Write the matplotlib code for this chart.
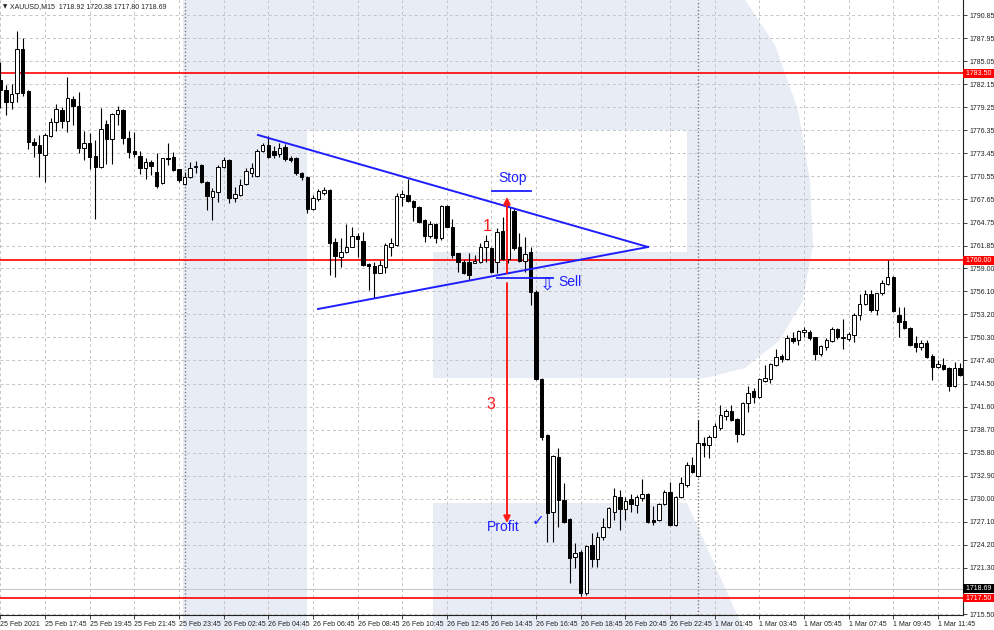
import matplotlib
matplotlib.use("Agg")
import matplotlib.pyplot as plt
from matplotlib.patches import Polygon, Rectangle
from matplotlib.transforms import blended_transform_factory

# ---------------- data ----------------
opens = [1782.68,1781.42,1779.87,1781.00,1786.58,1781.29,1774.92,1774.50,1773.24,1775.63,
         1777.36,1778.90,1777.52,1780.29,1779.41,1774.09,1774.71,1773.15,1771.77,1777.14,
         1775.26,1778.36,1778.90,1775.34,1773.75,1773.12,1771.57,1772.40,1771.14,1769.68,
         1772.90,1772.95,1771.44,1769.56,1770.51,1771.86,1771.98,1769.88,1767.98,1768.55,
         1771.77,1772.61,1767.80,1768.21,1769.56,1770.94,1770.60,1773.78,1774.50,1773.78,
         1773.37,1774.21,1772.83,1772.83,1771.02,1770.51,1766.45,1767.71,1768.42,1768.84,
         1762.26,1760.45,1761.08,1761.71,1763.05,1762.46,1759.53,1759.28,1758.44,1759.19,
         1761.71,1761.92,1767.92,1768.21,1767.49,1766.74,1765.07,1763.05,1764.56,1762.76,
         1766.83,1764.22,1760.88,1759.82,1759.82,1759.70,1759.82,1761.63,1761.51,1759.82,
         1763.72,1760.16,1766.24,1761.63,1759.95,1761.00,1756.05,1745.03,1738.02,1728.37,
         1735.29,1729.85,1727.45,1722.71,1723.34,1718.11,1724.18,1722.39,1725.23,1726.41,
         1728.37,1730.18,1728.68,1729.93,1729.21,1730.06,1730.60,1727.33,1727.33,1729.34,
         1730.89,1726.70,1730.26,1731.73,1734.25,1732.86,1736.98,1736.76,1737.81,1738.86,
         1740.45,1741.08,1740.00,1738.11,1742.01,1743.56,1742.76,1744.85,1745.03,1746.83,
         1747.96,1747.54,1750.18,1749.97,1751.02,1751.02,1750.31,1748.21,1749.13,1749.88,
         1751.32,1750.18,1750.06,1750.60,1753.11,1754.50,1755.76,1753.75,1755.85,1757.02,
         1757.93,1753.11,1752.40,1751.44,1749.56,1749.05,1749.56,1747.96,1746.54,1746.83,
         1746.41,1744.18,1746.41]
highs = [1784.94,1782.05,1782.14,1788.84,1787.96,1781.42,1775.38,1775.76,1776.01,1777.93,
         1779.62,1779.32,1783.09,1780.70,1781.21,1776.26,1775.97,1775.13,1779.12,1777.65,
         1778.49,1779.44,1778.99,1776.26,1776.17,1773.75,1772.83,1772.61,1773.53,1772.90,
         1774.71,1773.66,1771.48,1771.14,1772.40,1772.49,1772.11,1769.97,1769.05,1771.98,
         1773.03,1772.74,1769.25,1770.18,1771.57,1772.20,1773.96,1774.71,1775.63,1774.37,
         1774.79,1774.63,1773.12,1773.03,1771.14,1770.60,1768.21,1768.93,1769.25,1768.93,
         1762.76,1762.76,1764.52,1764.22,1763.39,1763.59,1759.62,1759.82,1760.03,1762.21,
         1762.76,1768.42,1768.84,1770.18,1767.58,1766.83,1765.15,1764.98,1764.65,1766.95,
         1766.95,1765.15,1760.95,1760.03,1760.88,1760.66,1762.14,1763.18,1761.71,1764.02,
         1765.48,1767.20,1766.61,1763.47,1762.97,1761.63,1756.26,1745.15,1738.15,1735.51,
         1736.35,1731.94,1727.54,1724.40,1723.56,1724.18,1725.66,1725.86,1727.54,1729.00,
         1731.32,1731.10,1730.26,1730.60,1730.47,1732.45,1730.69,1729.09,1729.43,1731.10,
         1732.15,1730.35,1732.78,1734.66,1735.29,1739.91,1737.81,1738.02,1739.49,1741.79,
         1741.26,1741.79,1740.12,1742.21,1744.18,1743.90,1745.15,1746.83,1747.12,1748.80,
         1748.21,1750.60,1751.02,1751.23,1751.57,1751.23,1750.35,1749.34,1750.18,1751.57,
         1751.44,1752.58,1751.02,1753.40,1755.76,1756.26,1756.26,1755.92,1757.52,1760.03,
         1758.02,1754.16,1754.16,1751.57,1750.47,1749.97,1749.97,1748.21,1747.45,1747.67,
         1746.61,1747.24,1747.04]
lows = [1779.15,1778.27,1779.03,1779.91,1780.70,1774.00,1773.03,1770.51,1769.85,1775.54,
        1776.26,1776.60,1776.17,1777.02,1773.46,1772.61,1771.48,1765.19,1771.61,1772.07,
        1772.07,1777.02,1774.59,1772.90,1773.03,1770.81,1770.22,1770.73,1769.13,1769.56,
        1771.98,1771.23,1769.88,1769.47,1770.39,1770.94,1769.72,1766.32,1765.07,1767.37,
        1771.57,1767.17,1767.37,1768.12,1769.47,1770.51,1770.51,1773.66,1772.83,1772.83,
        1773.03,1772.53,1772.40,1770.73,1770.10,1765.98,1766.32,1767.49,1768.21,1758.15,
        1757.93,1759.12,1760.95,1761.63,1760.45,1759.28,1756.26,1755.22,1758.36,1758.36,
        1760.54,1761.79,1766.83,1767.37,1764.98,1764.73,1762.34,1762.76,1762.14,1762.55,
        1764.15,1760.25,1758.56,1758.27,1757.52,1759.62,1759.70,1759.82,1758.44,1758.36,
        1760.03,1759.70,1761.29,1759.82,1758.56,1754.37,1744.94,1737.39,1724.60,1724.60,
        1726.49,1726.91,1719.37,1721.25,1717.77,1717.89,1721.46,1721.46,1724.81,1726.28,
        1727.33,1726.07,1727.33,1728.37,1728.17,1729.76,1726.99,1726.70,1727.24,1729.21,
        1726.61,1726.58,1730.06,1731.52,1733.28,1732.78,1735.29,1735.09,1737.73,1738.65,
        1739.91,1739.82,1737.18,1738.02,1740.95,1742.08,1742.63,1744.73,1744.52,1746.70,
        1747.24,1747.45,1749.56,1749.34,1750.31,1749.97,1747.45,1747.96,1748.71,1749.76,
        1750.06,1748.80,1749.88,1749.76,1752.49,1754.37,1753.53,1753.11,1755.63,1756.89,
        1753.53,1750.38,1751.36,1749.22,1748.50,1748.71,1747.67,1744.94,1746.41,1746.20,
        1743.59,1744.10,1745.44]
closes = [1781.42,1779.91,1780.88,1786.58,1781.08,1774.92,1774.50,1773.46,1775.76,1777.43,
          1779.03,1777.56,1780.45,1779.41,1774.16,1774.71,1773.03,1771.77,1776.48,1775.26,
          1778.36,1778.90,1775.34,1773.66,1773.33,1771.57,1772.40,1771.86,1769.38,1772.83,
          1772.70,1771.36,1770.10,1770.51,1771.65,1771.70,1769.81,1768.12,1768.71,1771.77,
          1772.61,1767.87,1768.30,1769.47,1771.27,1771.57,1773.78,1774.50,1772.95,1773.24,
          1774.09,1772.70,1772.61,1770.94,1770.51,1766.45,1767.80,1768.71,1768.84,1762.21,
          1760.54,1761.08,1761.63,1763.05,1762.64,1759.41,1759.28,1758.44,1759.41,1761.92,
          1762.21,1768.08,1768.30,1767.49,1766.74,1764.85,1763.05,1764.56,1762.76,1766.83,
          1764.22,1760.66,1759.82,1758.44,1758.15,1759.91,1761.63,1762.42,1758.56,1763.59,
          1760.12,1766.70,1761.51,1759.95,1760.75,1756.05,1745.03,1737.81,1728.17,1735.38,
          1729.85,1727.04,1722.51,1723.14,1718.11,1724.06,1722.39,1725.23,1726.41,1728.80,
          1730.35,1728.68,1729.76,1729.34,1730.18,1730.60,1727.12,1727.12,1729.34,1730.89,
          1726.70,1730.26,1732.02,1734.25,1733.41,1737.05,1736.76,1737.81,1739.15,1740.54,
          1741.08,1739.91,1738.11,1742.01,1743.34,1742.76,1745.07,1745.15,1746.95,1747.87,
          1747.54,1750.18,1749.88,1751.10,1751.23,1750.18,1748.21,1749.22,1749.97,1751.32,
          1750.31,1750.38,1750.73,1753.11,1754.50,1755.76,1753.75,1755.85,1757.18,1757.86,
          1753.62,1752.27,1751.44,1749.34,1749.13,1749.56,1747.87,1746.54,1746.95,1746.29,
          1744.18,1746.41,1745.57]

price_labels = [1790.85, 1787.95, 1785.05, 1782.15, 1779.25, 1776.35, 1773.45, 1770.55,
                1767.65, 1764.75, 1761.85, 1759.00, 1756.10, 1753.20, 1750.30, 1747.40,
                1744.50, 1741.60, 1738.70, 1735.80, 1732.90, 1730.00, 1727.10, 1724.20,
                1721.30, 1715.50]
time_labels = ["25 Feb 2021", "25 Feb 17:45", "25 Feb 19:45", "25 Feb 21:45", "25 Feb 23:45",
               "26 Feb 02:45", "26 Feb 04:45", "26 Feb 06:45", "26 Feb 08:45", "26 Feb 10:45",
               "26 Feb 12:45", "26 Feb 14:45", "26 Feb 16:45", "26 Feb 18:45", "26 Feb 20:45",
               "26 Feb 22:45", "1 Mar 01:45", "1 Mar 03:45", "1 Mar 05:45", "1 Mar 07:45",
               "1 Mar 09:45", "1 Mar 11:45"]
label_step = 8
day_separators = [33, 125]
red_levels = [1783.50, 1760.00, 1717.50]
bid_price = 1718.69
title = "XAUUSD,M15  1718.92 1720.38 1717.80 1718.69"

# annotation geometry (bar index, price)
tri_upper = ([46.16, 116.05], [1775.76, 1761.67])
tri_lower = ([56.91, 116.05], [1753.87, 1761.67])
stop_arrow = (90.78, 1758.40, 1767.96)
profit_arrow = (90.78, 1757.14, 1726.95)
stop_line = ([88.1, 95.1], 1768.75)
sell_line = ([89.0, 99.0], 1757.73)

# ---------------- figure ----------------
W, H = 995, 630
fig = plt.figure(figsize=(W / 100, H / 100), dpi=100)
fig.patch.set_facecolor("white")

# watermark (background, pixel coords)
bg = fig.add_axes([0, 0, 1, 1], zorder=0)
bg.set_xlim(0, W)
bg.set_ylim(H, 0)
bg.axis("off")
wm = "#e8ecf5"
bg.add_patch(Rectangle((183, 0), 124, 630, fc=wm, ec="none"))
bowl = [(307, 0), (745, 0), (775, 45), (798, 110), (810, 180), (813, 245), (803, 300),
        (780, 340), (745, 368), (705, 378), (433, 378), (433, 252), (687, 252),
        (687, 130), (307, 130)]
bg.add_patch(Polygon(bowl, closed=True, fc=wm, ec="none"))
leg = [(433, 503), (687, 503), (744, 630), (433, 630)]
bg.add_patch(Polygon(leg, closed=True, fc=wm, ec="none"))

ax = fig.add_axes([0, 15 / H, 963 / W, 615 / H], zorder=1)
ax.set_facecolor("none")
n = len(opens)
xs = list(range(n))
ax.set_xlim(-0.075, 172.5)
ax.set_ylim(1715.38, 1792.74)

grid_kw = dict(color="#c4c4c4", lw=0.7, dashes=(3, 3), zorder=1)
for p in price_labels:
    ax.axhline(p, **grid_kw)
tick_pos = list(range(0, label_step * len(time_labels), label_step))
for t in tick_pos:
    ax.axvline(t, **grid_kw)
for d in day_separators:
    ax.axvline(d, color="#7a7a7a", lw=1.0, dashes=(1, 1.5), zorder=1.5)

ax.axhline(bid_price, color="#c8c8c8", lw=0.8, zorder=1.6)
for lv in red_levels:
    ax.axhline(lv, color="#ff0000", lw=1.2, zorder=2)

# candles
ax.vlines(xs, lows, highs, color="black", lw=0.8, zorder=3)
bottoms = [min(o, c) for o, c in zip(opens, closes)]
heights = [max(abs(c - o), 0.12) for o, c in zip(opens, closes)]
fills = ["white" if c >= o else "black" for o, c in zip(opens, closes)]
ax.bar(xs, heights, bottom=bottoms, width=0.62, color=fills, edgecolor="black",
       linewidth=0.7, zorder=4)

# triangle
blue = "#1e1eff"
ax.plot(*tri_upper, color=blue, lw=1.4, zorder=5)
ax.plot(*tri_lower, color=blue, lw=1.4, zorder=5)

red = "#ff1a1a"
ax.annotate("", xy=(stop_arrow[0], stop_arrow[2]), xytext=(stop_arrow[0], stop_arrow[1]),
            arrowprops=dict(arrowstyle="-|>", color=red, lw=1.4, mutation_scale=10,
                            shrinkA=0, shrinkB=0), zorder=6)
ax.annotate("", xy=(profit_arrow[0], profit_arrow[2]), xytext=(profit_arrow[0], profit_arrow[1]),
            arrowprops=dict(arrowstyle="-|>", color=red, lw=1.4, mutation_scale=10,
                            shrinkA=0, shrinkB=0), zorder=6)
ax.plot(stop_line[0], [stop_line[1]] * 2, color=blue, lw=1.3, zorder=6)
ax.plot(sell_line[0], [sell_line[1]] * 2, color=blue, lw=1.3, zorder=6)

afont = ["Liberation Sans", "DejaVu Sans"]
ax.text(91.86, 1770.3, "Stop", color=blue, fontsize=10, family=afont, ha="center", va="center", zorder=7)
ax.text(87.2, 1764.2, "1", color=red, fontsize=11.5, family=afont, ha="center", va="center", zorder=7)
ax.text(87.92, 1741.9, "3", color=red, fontsize=11.5, family=afont, ha="center", va="center", zorder=7)
ax.text(99.9, 1757.3, "Sell", color=blue, fontsize=10, family=afont, ha="left", va="center", zorder=7)
ax.text(97.95, 1756.9, "\u21e9", color=blue, fontsize=13, family=["DejaVu Sans"], ha="center", va="center", zorder=7)
ax.text(90.07, 1726.45, "Profit", color=blue, fontsize=10, family=afont, ha="center", va="center", zorder=7)
ax.text(96.3, 1727.3, "\u2713", color=blue, fontsize=11, family=["DejaVu Sans"], ha="center", va="center", zorder=7)

# axes styling
for s in ["left", "top"]:
    ax.spines[s].set_visible(False)
for s in ["right", "bottom"]:
    ax.spines[s].set_color("#222222")
    ax.spines[s].set_linewidth(0.8)

tfont = ["Liberation Sans", "DejaVu Sans"]
ax.yaxis.tick_right()
ax.set_yticks(price_labels)
ax.set_yticklabels([f"{p:.2f}" for p in price_labels], fontsize=5, family=tfont, color="#222222")
ax.tick_params(axis="y", length=3, width=0.6, pad=1.5, colors="#222222")
ax.set_xticks(tick_pos)
ax.set_xticklabels(time_labels, fontsize=5, family=tfont, ha="left", color="#222222")
ax.tick_params(axis="x", length=3, width=0.6, pad=1.5, colors="#222222")

ytr = blended_transform_factory(ax.transAxes, ax.transData)
for lv in red_levels:
    ax.text(1.0 + 1 / 963, lv, f" {lv:.2f}  ", transform=ytr, fontsize=5, family=tfont,
            color="white", ha="left", va="center", zorder=10, clip_on=False,
            bbox=dict(boxstyle="square,pad=0.12", fc="#ff0000", ec="none"))
ax.text(1.0 + 1 / 963, bid_price, f" {bid_price:.2f}  ", transform=ytr, fontsize=5, family=tfont,
        color="white", ha="left", va="center", zorder=10, clip_on=False,
        bbox=dict(boxstyle="square,pad=0.12", fc="#000000", ec="none"))

fig.text(3 / W, 1 - 7 / H, "\u25bc", fontsize=4, family=["DejaVu Sans"], va="center", ha="left", color="#222222", zorder=10)
fig.text(10 / W, 1 - 7 / H, title, fontsize=5, family=tfont, va="center", ha="left", color="#222222", zorder=10)

fig.savefig("out.png", dpi=100, facecolor="white")
